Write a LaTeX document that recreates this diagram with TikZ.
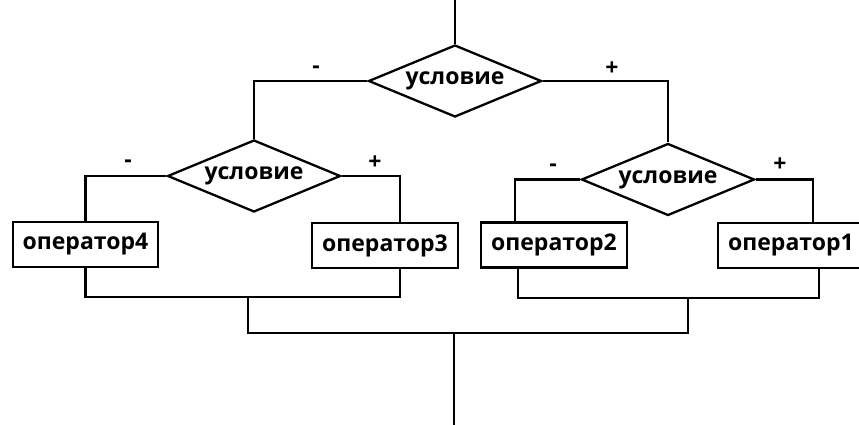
\documentclass[tikz,border=0pt]{standalone}
\usepackage{fontspec}
\setmainfont{Open Sans}
\usetikzlibrary{shapes.geometric}
\begin{document}
\begin{tikzpicture}[x=1pt,y=1pt,
  line width=2.3pt,
  every node/.style={font=\fontsize{23}{25}\selectfont\bfseries},
  cond/.style={diamond,draw,aspect=2.4,inner sep=0pt,minimum width=173pt,minimum height=72pt},
  opbox/.style={rectangle,draw,inner sep=0pt,minimum width=146pt,minimum height=45pt},
  sign/.style={inner sep=0pt}]
\useasboundingbox (0,0) rectangle (859,-425);
\fill[white] (0,0) rectangle (859,-425);
% decisions
\node[cond] (d0) at (455,-81) {условие};
\node[cond] (d1) at (254,-176) {условие};
\node[cond] (d2) at (668,-179.5) {условие};
% operators
\node[opbox,minimum width=145pt] (op4) at (85.5,-244.5) {оператор4};
\node[opbox] (op3) at (385,-245.5) {оператор3};
\node[opbox] (op2) at (554,-245) {оператор2};
\node[opbox] (op1) at (791,-245.5) {оператор1};
% signs
\node[sign] (m0) at (316,-70) {-};
\node[sign] (p0) at (612,-69) {+};
\node[sign] (m1) at (128,-164) {-};
\node[sign] (p1) at (375,-163) {+};
\node[sign] (m2) at (553,-168) {-};
\node[sign] (p2) at (780,-165) {+};
% free ends and junctions
\coordinate (in) at (455,0);
\coordinate (jl) at (248,-297);
\coordinate (jr) at (688,-298);
\coordinate (jb) at (454,-333);
\coordinate (out) at (454,-425);
% connectors
\draw (in) -- (d0.north);
\draw (d0.west) -| (d1.north);
\draw (d0.east) -| (d2.north);
\draw (d1.west) -| (op4.north);
\draw (d1.east) -| ([xshift=15pt]op3.north);
\draw (d2.west) -| ([xshift=-39pt]op2.north);
\draw (d2.east) -| ([xshift=22pt]op1.north);
\draw (op4.south) |- ([xshift=15pt]op3.south |- jl) -- ([xshift=15pt]op3.south);
\draw ([xshift=-36pt]op2.south) |- ([xshift=28pt]op1.south |- jr) -- ([xshift=28pt]op1.south);
\draw (jl) |- (jb) -| (jr);
\draw (jb) -- (out);
\end{tikzpicture}
\end{document}
